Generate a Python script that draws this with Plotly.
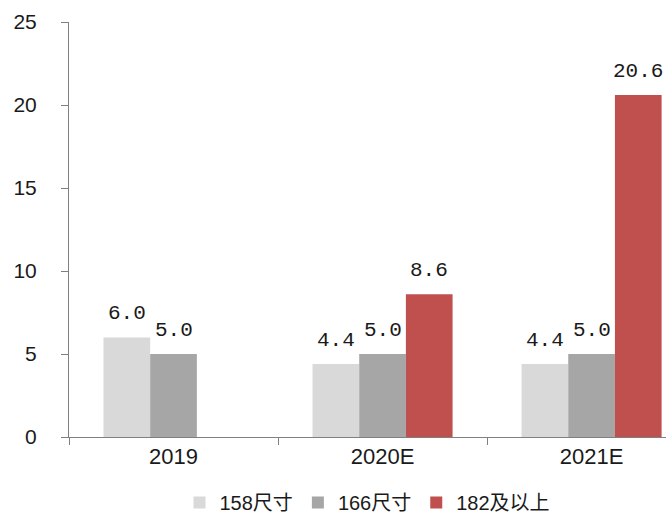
import plotly.graph_objects as go

categories = ["2019", "2020E", "2021E"]
s158 = [6.0, 4.4, 4.4]
s166 = [5.0, 5.0, 5.0]
s182 = [None, 8.6, 20.6]
names = ["158尺寸", "166尺寸", "182及以上"]
colors = ["#d9d9d9", "#a6a6a6", "#c0504d"]

fig = go.Figure()
series = [s158, s166, s182]
for name, vals, col in zip(names, series, colors):
    fig.add_trace(go.Bar(
        x=categories, y=vals, name=name, marker_color=col,
        marker_line_width=0,
    ))

bar_px = 46.7
for i, vals in enumerate(series):
    for j, v in enumerate(vals):
        if v is None:
            continue
        fig.add_annotation(
            x=j, y=v, xref="x", yref="y", text="%.1f" % v,
            showarrow=False, yanchor="bottom", xanchor="center",
            xshift=(i - 1) * bar_px, yshift=10,
            font=dict(family="Liberation Mono", size=21, color="#1a1a1a"),
        )

fig.update_layout(
    width=666, height=522,
    margin=dict(l=69, r=0, t=22, b=83),
    paper_bgcolor="white", plot_bgcolor="white",
    barmode="group", bargap=0.33, bargroupgap=0,
    font=dict(family="Liberation Sans, Noto Sans CJK SC", size=20, color="#1a1a1a"),
    legend=dict(orientation="h", x=0.5, xanchor="center", y=-0.158, yanchor="middle",
                font=dict(family="Liberation Sans, Noto Sans CJK SC", size=20),
                itemwidth=30, traceorder="normal"),
    showlegend=True,
)
fig.update_xaxes(
    type="category", range=[-0.5, 2.356], showline=True, linecolor="#808080",
    ticks="outside", tickson="boundaries", ticklen=7, tickcolor="#808080",
    showgrid=False, tickfont=dict(size=22),
)
fig.update_yaxes(
    range=[0, 25], dtick=5, showline=True, linecolor="#808080",
    ticks="outside", ticklen=7, tickcolor="#808080", showgrid=False,
    zeroline=False, tickfont=dict(size=21), ticklabelstandoff=20,
)
fig.write_html("out.html")
